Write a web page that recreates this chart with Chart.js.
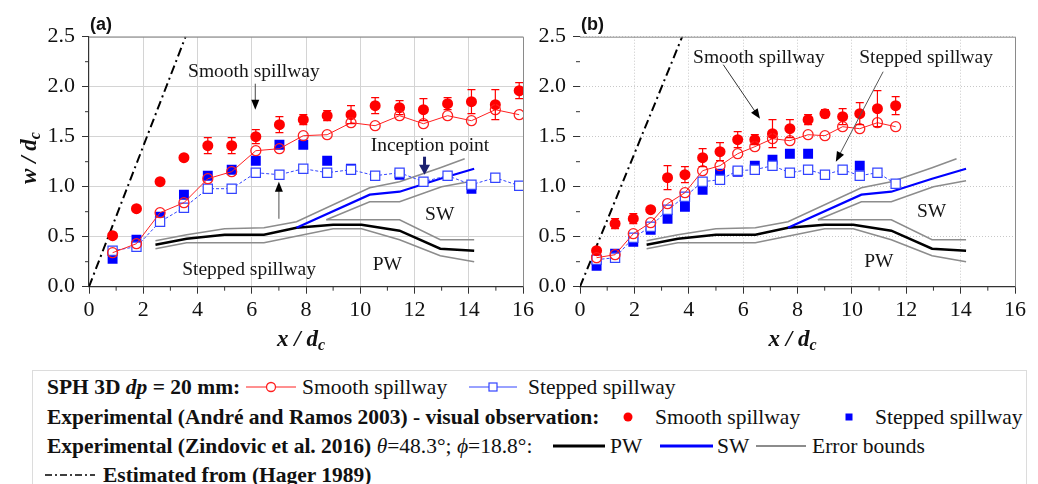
<!DOCTYPE html>
<html>
<head>
<meta charset="utf-8">
<script src="https://cdn.jsdelivr.net/npm/chart.js@4.4.0/dist/chart.umd.min.js"></script>
<style>
    body { margin: 0; width: 1038px; height: 484px; overflow: hidden; background: #fff; position: relative; font-family: 'Liberation Serif', serif; color: #111; }
    #chartA { position: absolute; left: 0; top: 0; }
    #chartB { position: absolute; left: 537px; top: 0; }
    .lgbox { position: absolute; left: 32px; top: 370px; width: 993px; height: 130px; border: 1px solid #dcdcdc; }
    .lt { position: absolute; font-size: 21.5px; line-height: 22px; white-space: nowrap; }
    .b { font-weight: bold; }
    .smp { position: absolute; }
</style>
</head>
<body>
<canvas id="chartA" width="537" height="360"></canvas>
<canvas id="chartB" width="501" height="360"></canvas>

<div class="lgbox"></div>
<div class="lt b" style="left:47px;top:376px">SPH 3D <i>dp</i> = 20 mm:</div>
<svg class="smp" style="left:246px;top:381px" width="50" height="12"><line x1="0" y1="6" x2="50" y2="6" stroke="#ff2020" stroke-width="1"/><circle cx="25" cy="6" r="4.5" fill="#fff" stroke="#ff2020" stroke-width="1.3"/></svg>
<div class="lt" style="left:302px;top:376px">Smooth spillway</div>
<svg class="smp" style="left:469px;top:381px" width="48" height="12"><line x1="0" y1="6" x2="48" y2="6" stroke="#3344ff" stroke-width="1"/><rect x="20" y="2" width="8" height="8" fill="#fff" stroke="#3344ff" stroke-width="1.2"/></svg>
<div class="lt" style="left:528px;top:376px">Stepped spillway</div>

<div class="lt b" style="left:47px;top:406px">Experimental (André and Ramos 2003) - visual observation:</div>
<svg class="smp" style="left:622px;top:411px" width="12" height="12"><circle cx="6" cy="6" r="4.5" fill="#ff0000"/></svg>
<div class="lt" style="left:655px;top:406px">Smooth spillway</div>
<svg class="smp" style="left:843px;top:411px" width="12" height="12"><rect x="2.5" y="2.5" width="7" height="7" fill="#0000ff"/></svg>
<div class="lt" style="left:875px;top:406px">Stepped spillway</div>

<div class="lt" style="left:47px;top:435px"><span class="b">Experimental (Zindovic et al. 2016)</span> <i>θ</i>=48.3°; <i>ϕ</i>=18.8°:</div>
<svg class="smp" style="left:553px;top:440px" width="52" height="12"><line x1="0" y1="6" x2="52" y2="6" stroke="#000" stroke-width="3"/></svg>
<div class="lt" style="left:610px;top:435px">PW</div>
<svg class="smp" style="left:660px;top:440px" width="53" height="12"><line x1="0" y1="6" x2="53" y2="6" stroke="#0000ff" stroke-width="3"/></svg>
<div class="lt" style="left:717px;top:435px">SW</div>
<svg class="smp" style="left:756px;top:440px" width="50" height="12"><line x1="0" y1="6" x2="50" y2="6" stroke="#8c8c8c" stroke-width="2"/></svg>
<div class="lt" style="left:812px;top:435px">Error bounds</div>

<svg class="smp" style="left:45px;top:469px" width="50" height="12"><line x1="0" y1="6" x2="50" y2="6" stroke="#000" stroke-width="1.5" stroke-dasharray="7 3 2 3"/></svg>
<div class="lt b" style="left:103px;top:464px">Estimated from (Hager 1989)</div>

<script>
// ---- panel (a): x / dc positions and w / dc values ----
const xA = [0.87, 1.75, 2.62, 3.50, 4.38, 5.26, 6.15, 7.02, 7.90, 8.78, 9.66, 10.55, 11.45, 12.33, 13.22, 14.10, 14.98, 15.86];
const sphSmoothA = [0.34, 0.43, 0.74, 0.84, 1.08, 1.15, 1.36, 1.38, 1.51, 1.52, 1.64, 1.61, 1.71, 1.63, 1.71, 1.66, 1.77, 1.72];
const sphSteppedA = [0.36, 0.40, 0.65, 0.79, 0.98, 0.98, 1.14, 1.12, 1.18, 1.14, 1.17, 1.11, 1.14, 1.05, 1.11, 1.02, 1.09, 1.01];
const expSmoothA = [0.51, 0.78, 1.05, 1.29, 1.41, 1.41, 1.50, 1.62, 1.67, 1.71, 1.72, 1.81, 1.79, 1.77, 1.83, 1.85, 1.82, 1.96];
const expSmoothErrA = [null, null, null, null, 0.08, 0.08, 0.07, 0.08, 0.05, 0.05, 0.09, 0.08, 0.07, 0.11, 0.06, 0.12, 0.15, 0.08];
const expSteppedA = [0.28, 0.47, 0.70, 0.92, 1.11, 1.17, 1.26, 1.42, 1.42, 1.26, 1.18, null, 1.12, null, null, 0.98, null, null];

// ---- panel (b) ----
const xB = [0.61, 1.29, 1.96, 2.60, 3.22, 3.86, 4.51, 5.15, 5.80, 6.43, 7.08, 7.72, 8.39, 9.01, 9.66, 10.29, 10.94, 11.61];
const sphSmoothB = [0.29, 0.32, 0.53, 0.64, 0.83, 0.94, 1.16, 1.21, 1.33, 1.40, 1.48, 1.46, 1.52, 1.51, 1.60, 1.58, 1.64, 1.60];
const sphSteppedB = [0.27, 0.29, 0.49, 0.60, 0.77, 0.90, 1.05, 1.07, 1.16, 1.17, 1.21, 1.14, 1.17, 1.12, 1.17, 1.11, 1.14, 1.03];
const expSmoothB = [0.36, 0.63, 0.68, 0.77, 1.09, 1.12, 1.29, 1.35, 1.47, 1.47, 1.53, 1.58, 1.67, 1.73, 1.70, 1.73, 1.78, 1.81];
const expSmoothErrB = [null, 0.05, 0.05, null, 0.12, 0.08, 0.09, 0.09, 0.08, 0.05, 0.14, 0.09, 0.05, 0.04, 0.08, 0.11, 0.18, 0.09];
const expSteppedB = [0.21, 0.33, 0.45, 0.57, 0.68, 0.80, 0.97, 1.13, 1.15, 1.21, 1.27, 1.33, 1.33, null, null, 1.21, null, null];

// ---- Zindovic et al. 2016 (same in both panels) ----
const pwX = [2.45, 3.6, 5.0, 6.45, 7.65, 9.0, 10.05, 11.45, 12.95, 14.2];
const pwY = [0.42, 0.48, 0.52, 0.52, 0.59, 0.62, 0.62, 0.56, 0.38, 0.36];
const swX = [7.65, 10.35, 11.45, 12.95, 14.2];
const swY = [0.59, 0.92, 0.95, 1.08, 1.18];
const boundUpperX = [2.45, 3.6, 5.0, 6.45, 7.65, 10.35, 11.45, 12.95, 13.85];
const boundUpperY = [0.46, 0.52, 0.58, 0.59, 0.65, 0.99, 1.05, 1.19, 1.28];
const boundLowerX = [2.45, 3.6, 6.45, 9.0, 10.05, 11.45, 12.95, 14.2];
const boundLowerY = [0.38, 0.44, 0.44, 0.58, 0.58, 0.47, 0.31, 0.25];
const swLowerX = [8.75, 10.35, 11.45, 13.0, 14.2];
const swLowerY = [0.67, 0.85, 0.85, 1.0, 1.06];
const pwUpperX = [8.75, 11.45, 12.95, 14.2];
const pwUpperY = [0.67, 0.67, 0.47, 0.47];

// Hager 1989 estimate
const hagerAX = [0, 3.56], hagerAY = [0, 2.5];
const hagerBX = [0, 3.76], hagerBY = [0, 2.5];

const xTicks = [0, 2, 4, 6, 8, 10, 12, 14, 16];
const yTicks = [0, 0.5, 1.0, 1.5, 2.0, 2.5];

function pts(xs, ys) {
    return xs.map((v, i) => ({ x: v, y: ys[i] })).filter(p => p.y !== null);
}

function drawArrow(ctx, x1, y1, x2, y2, s) {
    const ang = Math.atan2(y2 - y1, x2 - x1);
    const L = s.headLen, W = s.headW / 2;
    const c = Math.cos(ang), sn = Math.sin(ang);
    ctx.save();
    ctx.strokeStyle = s.color;
    ctx.lineWidth = s.width;
    ctx.beginPath();
    ctx.moveTo(x1, y1);
    ctx.lineTo(x2 - c * L * 0.8, y2 - sn * L * 0.8);
    ctx.stroke();
    ctx.fillStyle = s.head;
    ctx.beginPath();
    ctx.moveTo(x2, y2);
    ctx.lineTo(x2 - L * c + W * sn, y2 - L * sn - W * c);
    ctx.lineTo(x2 - L * c - W * sn, y2 - L * sn + W * c);
    ctx.closePath();
    ctx.fill();
    ctx.restore();
}

// "w / dc" style label with subscript
function drawRatio(ctx, main, sub, cx, cy, rotate) {
    const big = 'bold italic 23px "Liberation Serif"';
    const small = 'bold italic 16px "Liberation Serif"';
    ctx.save();
    ctx.translate(cx, cy);
    if (rotate) ctx.rotate(-Math.PI / 2);
    ctx.fillStyle = '#111';
    ctx.textBaseline = 'middle';
    ctx.textAlign = 'left';
    ctx.font = big;
    const w1 = ctx.measureText(main).width;
    ctx.font = small;
    const w2 = ctx.measureText(sub).width;
    const x0 = -(w1 + w2) / 2;
    ctx.font = big;
    ctx.fillText(main, x0, 0);
    ctx.font = small;
    ctx.fillText(sub, x0 + w1, 6);
    ctx.restore();
}

const panelDecor = {
    id: 'panelDecor',
    afterDatasetsDraw(chart, args, opts) {
        const { ctx, chartArea: a, scales: { x, y } } = chart;
        // error bars on the experimental smooth-spillway points
        ctx.save();
        ctx.beginPath();
        ctx.rect(a.left, a.top, a.right - a.left, a.bottom - a.top);
        ctx.clip();
        ctx.strokeStyle = '#ff0000';
        ctx.lineWidth = 1.2;
        opts.errX.forEach((xv, i) => {
            const e = opts.err[i];
            if (e === null) return;
            const px = x.getPixelForValue(xv);
            const top = y.getPixelForValue(opts.errY[i] + e);
            const bot = y.getPixelForValue(opts.errY[i] - e);
            ctx.beginPath();
            ctx.moveTo(px, top); ctx.lineTo(px, bot);
            ctx.moveTo(px - 4, top); ctx.lineTo(px + 4, top);
            ctx.moveTo(px - 4, bot); ctx.lineTo(px + 4, bot);
            ctx.stroke();
        });
        ctx.restore();
    },
    afterDraw(chart, args, opts) {
        const { ctx, chartArea: a, scales: { x, y } } = chart;
        ctx.save();
        // top and right frame
        ctx.strokeStyle = '#8a8a8a';
        ctx.lineWidth = 1;
        ctx.beginPath();
        ctx.moveTo(a.left, a.top + 0.5);
        ctx.lineTo(a.right + 0.5, a.top + 0.5);
        ctx.lineTo(a.right + 0.5, a.bottom);
        ctx.stroke();

        // minor ticks
        ctx.strokeStyle = '#333';
        ctx.beginPath();
        for (let v = 1; v < 16; v += 2) {
            const px = x.getPixelForValue(v);
            ctx.moveTo(px, a.bottom); ctx.lineTo(px, a.bottom + 4);
        }
        for (let v = 0.25; v < 2.5; v += 0.5) {
            const py = y.getPixelForValue(v);
            ctx.moveTo(a.left - 4, py); ctx.lineTo(a.left, py);
        }
        ctx.stroke();

        // annotations
        ctx.fillStyle = '#151515';
        ctx.font = '19.5px "Liberation Serif"';
        ctx.textAlign = 'center';
        ctx.textBaseline = 'middle';
        opts.notes.forEach(n => {
            ctx.fillText(n.text, x.getPixelForValue(n.x), y.getPixelForValue(n.y));
        });
        opts.arrows.forEach(r => {
            drawArrow(ctx,
                x.getPixelForValue(r.from[0]), y.getPixelForValue(r.from[1]),
                x.getPixelForValue(r.to[0]), y.getPixelForValue(r.to[1]), r);
        });

        // panel tag
        ctx.fillStyle = '#111';
        ctx.font = 'bold 18px "Liberation Sans"';
        ctx.textAlign = 'left';
        ctx.fillText(opts.tag, a.left + 1, 25);

        // axis titles
        drawRatio(ctx, 'x / d', 'c', (a.left + a.right) / 2 - 5, a.bottom + 53, false);
        if (opts.yTitle) drawRatio(ctx, 'w / d', 'c', 30, 158, true);
        ctx.restore();
    }
};

function buildDatasets(xs, sphS, sphT, expS, expT, hx, hy) {
    const grey = { showLine: true, borderColor: '#8c8c8c', borderWidth: 1.6, pointRadius: 0, order: 8 };
    return [
        { data: pts(xs, sphS), showLine: true, borderColor: '#ff2020', borderWidth: 1,
          pointStyle: 'circle', pointRadius: 5, pointBorderWidth: 1.3, pointBackgroundColor: 'rgba(0,0,0,0)', order: 1 },
        { data: pts(xs, expS), showLine: false, pointStyle: 'circle', pointRadius: 5.5,
          pointBorderWidth: 0, pointBackgroundColor: '#ff0000', borderColor: '#ff0000', order: 2 },
        { data: pts(xs, sphT), showLine: true, borderColor: '#3344ff', borderWidth: 1, borderDash: [3, 2],
          pointStyle: 'rect', pointRadius: 6.5, pointBorderWidth: 1.2, pointBackgroundColor: '#fff', order: 3 },
        { data: pts(xs, expT), showLine: false, pointStyle: 'rect', pointRadius: 7,
          pointBorderWidth: 0, pointBackgroundColor: '#0000ff', borderColor: '#0000ff', order: 4 },
        { data: pts(swX, swY), showLine: true, borderColor: '#0000ff', borderWidth: 2.2, pointRadius: 0, order: 5 },
        { data: pts(pwX, pwY), showLine: true, borderColor: '#000', borderWidth: 2.5, pointRadius: 0, order: 6 },
        Object.assign({ data: pts(boundUpperX, boundUpperY) }, grey),
        Object.assign({ data: pts(boundLowerX, boundLowerY) }, grey),
        Object.assign({ data: pts(swLowerX, swLowerY) }, grey),
        Object.assign({ data: pts(pwUpperX, pwUpperY) }, grey),
        { data: pts(hx, hy), showLine: true, borderColor: '#000', borderWidth: 2, borderDash: [9, 4, 2, 4],
          pointRadius: 0, order: 9 }
    ];
}

function axes(p) {
    const tickFont = { family: 'Liberation Serif', size: 22 };
    return {
        x: {
            type: 'linear', min: 0, max: 16,
            afterBuildTicks: s => { s.ticks = xTicks.map(v => ({ value: v })); },
            afterFit: s => { s.height = 73.3; },
            ticks: { color: '#111', font: tickFont, padding: 3, maxRotation: 0, autoSkip: false },
            grid: { color: c => (c.tick && c.tick.value === 0 ? 'rgba(0,0,0,0)' : p.gridColor),
                    tickColor: '#333', tickLength: 7, lineWidth: 1 },
            border: { display: true, color: '#333', width: 1.2, dash: p.gridDash }
        },
        y: {
            type: 'linear', min: 0, max: 2.5,
            afterBuildTicks: s => { s.ticks = yTicks.map(v => ({ value: v })); },
            afterFit: s => { s.width = p.yWidth; },
            ticks: { color: '#111', font: tickFont, padding: 7, callback: v => v.toFixed(1) },
            grid: { color: c => (c.tick && c.tick.value === 0 ? 'rgba(0,0,0,0)' : p.gridColor),
                    tickColor: '#333', tickLength: 7, lineWidth: 1 },
            border: { display: p.yBorder, color: '#333', width: 1.2, dash: p.gridDash }
        }
    };
}

function makePanel(id, p) {
    return new Chart(document.getElementById(id), {
        type: 'scatter',
        data: { datasets: p.datasets },
        options: {
            responsive: false,
            animation: false,
            events: [],
            elements: { line: { tension: 0 } },
            layout: { padding: { top: 36.7, right: p.padRight, left: 0, bottom: 0 } },
            plugins: { legend: { display: false }, tooltip: { enabled: false }, panelDecor: p.decor },
            scales: axes(p)
        },
        plugins: [panelDecor]
    });
}

makePanel('chartA', {
    datasets: buildDatasets(xA, sphSmoothA, sphSteppedA, expSmoothA, expSteppedA, hagerAX, hagerAY),
    gridColor: '#d4d4d4', gridDash: [], yWidth: 89, yBorder: true, padRight: 13.7,
    decor: {
        tag: '(a)', yTitle: true,
        errX: xA, errY: expSmoothA, err: expSmoothErrA,
        notes: [
            { text: 'Smooth spillway', x: 6.08, y: 2.15 },
            { text: 'Stepped spillway', x: 5.9, y: 0.17 },
            { text: 'Inception point', x: 12.57, y: 1.41 },
            { text: 'SW', x: 12.93, y: 0.72 },
            { text: 'PW', x: 11.0, y: 0.22 }
        ],
        arrows: [
            { from: [6.13, 2.03], to: [6.13, 1.77], color: '#444', width: 1, head: '#000', headLen: 10, headW: 8 },
            { from: [7.0, 0.68], to: [7.0, 1.05], color: '#777', width: 1.3, head: '#000', headLen: 10, headW: 8 },
            { from: [12.37, 1.30], to: [12.37, 1.12], color: '#1c2170', width: 3, head: '#1c2170', headLen: 10, headW: 11 }
        ]
    }
});

makePanel('chartB', {
    datasets: buildDatasets(xB, sphSmoothB, sphSteppedB, expSmoothB, expSteppedB, hagerBX, hagerBY),
    gridColor: '#c8c8c8', gridDash: [1, 2], yWidth: 43, yBorder: false, padRight: 23,
    decor: {
        tag: '(b)', yTitle: false,
        errX: xB, errY: expSmoothB, err: expSmoothErrB,
        notes: [
            { text: 'Smooth spillway', x: 6.58, y: 2.29 },
            { text: 'Stepped spillway', x: 12.73, y: 2.29 },
            { text: 'SW', x: 12.93, y: 0.75 },
            { text: 'PW', x: 10.99, y: 0.25 }
        ],
        arrows: [
            { from: [5.27, 2.22], to: [6.62, 1.68], color: '#333', width: 1, head: '#000', headLen: 10, headW: 8 },
            { from: [11.15, 2.15], to: [9.41, 1.25], color: '#555', width: 1, head: '#000', headLen: 10, headW: 8 }
        ]
    }
});
</script>
</body>
</html>
